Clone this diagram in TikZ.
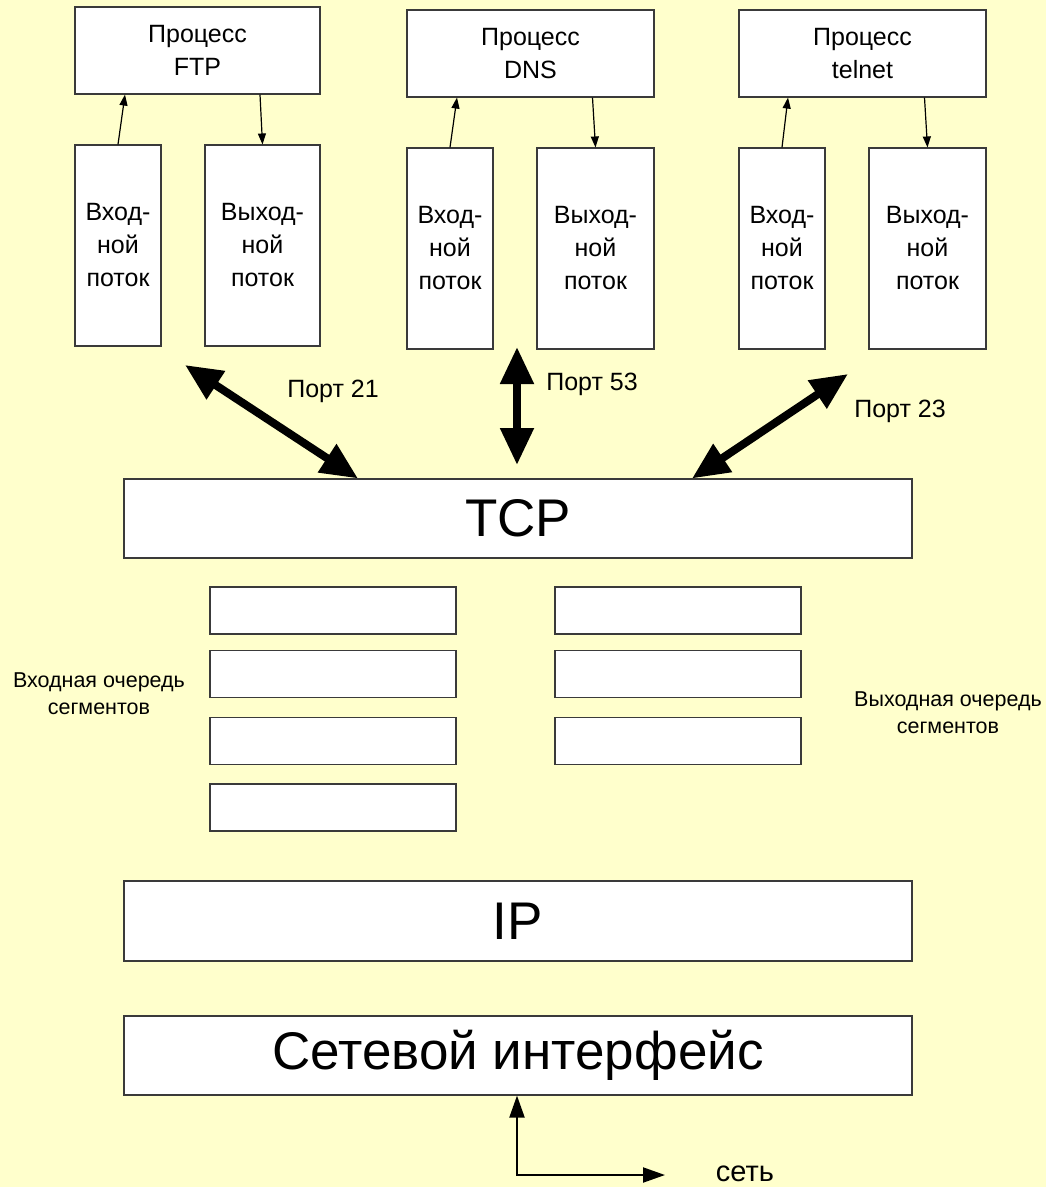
\documentclass[tikz,border=0pt]{standalone}
\usepackage{fontspec}
\setmainfont{Liberation Sans}
\usetikzlibrary{arrows.meta}
\definecolor{paper}{HTML}{FFFFCC}
\definecolor{edge}{HTML}{3A3A3A}
\tikzset{
  box/.style={draw=edge, line width=1.1pt, fill=white, inner sep=0pt, align=center},
  small/.style={font=\fontsize{25}{33}\selectfont},
  label/.style={font=\fontsize{25}{33}\selectfont, inner sep=0pt, align=center},
  qlabel/.style={font=\fontsize{21.5}{27}\selectfont, inner sep=0pt, align=center},
  big/.style={font=\fontsize{53}{60}\selectfont},
  thin arrow/.style={line width=1.2pt, -{Triangle[length=11pt,width=8pt]}},
  port/.style={line width=8pt, {Triangle[length=37pt,width=32pt]}-{Triangle[length=37pt,width=32pt]}},
  net arrow/.style={line width=2pt}
}
\begin{document}
\begin{tikzpicture}[x=1pt,y=-1pt]
  \useasboundingbox[fill=paper] (0,0) rectangle (1046,1187);

  % application processes
  \node[box, small, minimum width=245, minimum height=87] (ftp) at (197.5,50.5) {Процесс\\FTP};
  \node[box, small, minimum width=247, minimum height=87] (dns) at (530.5,53.5) {Процесс\\DNS};
  \node[box, small, minimum width=247, minimum height=87] (tel) at (862.5,53.5) {Процесс\\telnet};

  % input and output streams
  \node[box, small, minimum width=86, minimum height=201] (ftpin) at (118,245.5) {Вход-\\ной\\поток};
  \node[box, small, minimum width=115, minimum height=201] (ftpout) at (262.5,245.5) {Выход-\\ной\\поток};
  \node[box, small, minimum width=86, minimum height=201] (dnsin) at (450,248.5) {Вход-\\ной\\поток};
  \node[box, small, minimum width=117, minimum height=201] (dnsout) at (595.5,248.5) {Выход-\\ной\\поток};
  \node[box, small, minimum width=86, minimum height=201] (telin) at (782,248.5) {Вход-\\ной\\поток};
  \node[box, small, minimum width=117, minimum height=201] (telout) at (927.5,248.5) {Выход-\\ной\\поток};

  \draw[thin arrow] (ftpin.north) -- ([xshift=7]ftpin.north |- ftp.south);
  \draw[thin arrow] ([xshift=-2.5]ftpout.north |- ftp.south) -- (ftpout.north);
  \draw[thin arrow] (dnsin.north) -- ([xshift=7]dnsin.north |- dns.south);
  \draw[thin arrow] ([xshift=-3]dnsout.north |- dns.south) -- (dnsout.north);
  \draw[thin arrow] (telin.north) -- ([xshift=6]telin.north |- tel.south);
  \draw[thin arrow] ([xshift=-3]telout.north |- tel.south) -- (telout.north);

  % protocol layers
  \node[box, big, minimum width=788, minimum height=79] (tcp) at (518,518.5) {TCP};
  \node[box, big, minimum width=788, minimum height=80] (ip) at (518,921) {IP};
  \node[box, big, minimum width=788, minimum height=79] (nif) at (518,1055.5) {Сетевой интерфейс};

  % ports
  \coordinate (p21) at (185,365);
  \coordinate (p53) at (517,347);
  \coordinate (p23) at (848,374);
  \draw[port] (p21) -- (tcp.north -| 358,0);
  \draw[port] (p53) -- (517,465);
  \draw[port] (p23) -- (tcp.north -| 692,0);
  \node[label] (l21) at (333,391) {Порт 21};
  \node[label] (l53) at (592,384) {Порт 53};
  \node[label] (l23) at (900,411) {Порт 23};

  % segment queues
  \tikzset{seg/.style={draw=edge, line width=1.1pt, fill=white, minimum width=246, minimum height=47, inner sep=0pt}}
  \node[seg] (in1) at (333,610.5) {};
  \node[seg] (in2) at (333,674) {};
  \node[seg] (in3) at (333,741) {};
  \node[seg] (in4) at (333,807.5) {};
  \node[seg] (out1) at (678,610.5) {};
  \node[seg] (out2) at (678,674) {};
  \node[seg] (out3) at (678,741) {};
  \node[qlabel] (inq) at (99,694) {Входная очередь\\сегментов};
  \node[qlabel] (outq) at (948,713) {Выходная очередь\\сегментов};

  % link to the network
  \coordinate (corner) at (517,1175);
  \coordinate (netend) at (665,1175);
  \draw[net arrow, {Triangle[length=22pt,width=15pt]}-{Triangle[length=22pt,width=15pt]}]
    (nif.south -| corner) -- (corner) -- (netend);
  \node[label, font=\fontsize{29}{33}\selectfont] (net) at (745,1174) {сеть};
\end{tikzpicture}
\end{document}
